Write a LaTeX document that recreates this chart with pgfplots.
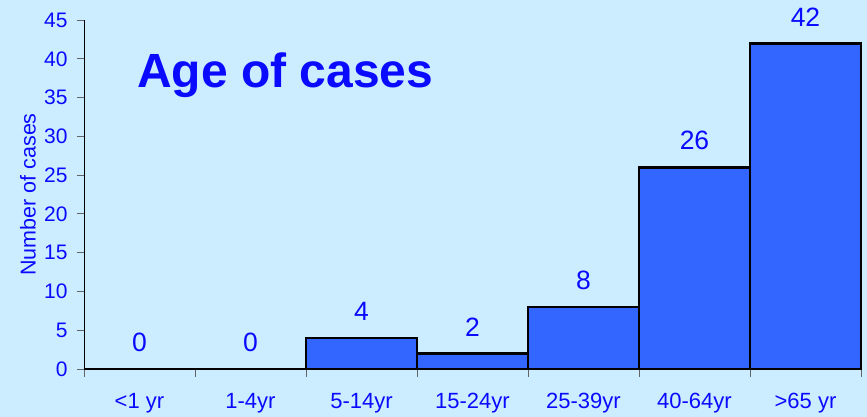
\documentclass[border=0pt]{standalone}
\usepackage{pgfplots}
\pgfplotsset{compat=1.18}
\usepackage{fontspec}
\setmainfont{Liberation Sans}
\definecolor{bg}{RGB}{204,236,255}
\definecolor{barblue}{RGB}{51,102,255}
\definecolor{txtblue}{RGB}{10,10,255}
\definecolor{tickgray}{RGB}{100,100,100}
\begin{document}
\begin{tikzpicture}
\useasboundingbox (0,0) rectangle (867bp,417bp);
\fill[bg] (0,0) rectangle (867bp,417bp);
\begin{axis}[
  at={(84bp,48bp)}, anchor=south west,
  scale only axis, width=777bp, height=349bp,
  xmin=0, xmax=7, ymin=0, ymax=45,
  axis x line*=bottom, axis y line*=left,
  axis line style={black, line width=0.8bp},
  ybar, bar width=1, bar shift=0pt,
  ytick={0,5,...,45},
  xtick={0.5,1.5,...,6.5},
  xticklabels={{<1 yr},{1-4yr},{5-14yr},{15-24yr},{25-39yr},{40-64yr},{>65 yr}},
  minor xtick={0,1,...,7},
  tick align=outside,
  major tick length=7bp, minor tick length=8bp,
  tick style={tickgray, line width=0.8bp},
  xtick style={draw=none},
  minor x tick style={draw=tickgray, line width=0.8bp},
  /pgf/number format/assume math mode=true,
  ticklabel style={text=txtblue},
  xticklabel style={font=\fontsize{22bp}{26bp}\selectfont, anchor=north, yshift=-14bp},
  yticklabel style={font=\fontsize{21bp}{25bp}\selectfont, anchor=east, xshift=-6bp},
  nodes near coords,
  every node near coord/.append style={font=\fontsize{26.5bp}{31bp}\selectfont, text=txtblue, anchor=center, yshift=26.5bp},
  clip=false,
]
\addplot[fill=barblue, draw=black, line width=2.5bp] coordinates {(0.5,0) (1.5,0) (2.5,4) (3.5,2) (4.5,8) (5.5,26) (6.5,42)};
\node[anchor=base west, inner sep=0pt, text=txtblue, font=\fontsize{48bp}{56bp}\selectfont\bfseries] at (rel axis cs:0.0682,0.808) {Age of cases};
\node[rotate=90, anchor=center, inner sep=0pt, text=txtblue, font=\fontsize{21.5bp}{25bp}\selectfont] at (rel axis cs:-0.0721,0.5) {Number of cases};
\end{axis}
\end{tikzpicture}
\end{document}
